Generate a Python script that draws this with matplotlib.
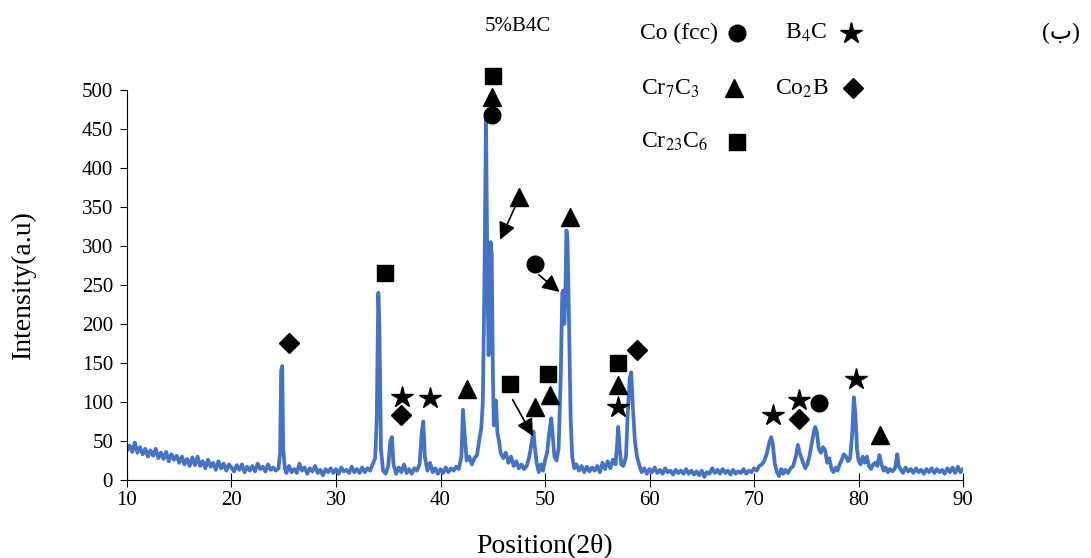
import matplotlib
matplotlib.use("Agg")
import matplotlib.pyplot as plt

plt.rcParams["font.family"] = ["Liberation Serif", "DejaVu Sans"]
plt.rcParams["mathtext.fontset"] = "stix"

# XRD pattern (2theta, intensity)
two_theta = [
    10.0, 10.25, 10.5, 10.75, 11.0, 11.25, 11.5, 11.75, 12.0, 12.25, 12.5, 12.75,
    13.0, 13.25, 13.5, 13.75, 14.0, 14.25, 14.5, 14.75, 15.0, 15.25, 15.5, 15.75,
    16.0, 16.25, 16.5, 16.75, 17.0, 17.25, 17.5, 17.75, 18.0, 18.25, 18.5, 18.75,
    19.0, 19.25, 19.5, 19.75, 20.0, 20.25, 20.5, 20.75, 21.0, 21.25, 21.5, 21.75,
    22.0, 22.25, 22.5, 22.75, 23.0, 23.25, 23.5, 23.75, 24.0, 24.25, 24.5,
    24.65, 24.75, 24.85, 24.95, 25.1, 25.25,
    25.5, 25.75, 26.0, 26.25, 26.5, 26.75, 27.0, 27.25, 27.5, 27.75, 28.0, 28.25,
    28.5, 28.75, 29.0, 29.25, 29.5, 29.75, 30.0, 30.25, 30.5, 30.75, 31.0, 31.25,
    31.5, 31.75, 32.0, 32.25, 32.5, 32.75, 33.0, 33.25, 33.5, 33.75,
    33.9, 34.05, 34.15, 34.3, 34.5, 34.75, 35.0, 35.2, 35.35, 35.5, 35.75,
    36.0, 36.25, 36.5, 36.75, 37.0, 37.25, 37.5, 37.75, 38.0, 38.2, 38.35, 38.5,
    38.75, 39.0, 39.25, 39.5, 39.75, 40.0, 40.25, 40.5, 40.75, 41.0, 41.25, 41.5,
    41.75, 42.0, 42.15, 42.3, 42.5, 42.75, 43.0, 43.25, 43.5, 43.75, 43.9, 44.05,
    44.2, 44.35, 44.5, 44.6, 44.7, 44.8, 44.9, 45.0, 45.1, 45.3, 45.45, 45.6,
    45.75, 46.0, 46.25, 46.5, 46.75, 47.0, 47.25, 47.5, 47.75, 48.0, 48.25, 48.5,
    48.65, 48.8, 48.9, 49.0, 49.2, 49.4, 49.6, 49.8, 50.0, 50.2, 50.4, 50.6,
    50.75, 50.9, 51.1, 51.3, 51.5, 51.65, 51.75, 51.85, 51.95, 52.05, 52.15, 52.3,
    52.45, 52.6, 52.8, 53.0, 53.25, 53.5, 53.75, 54.0, 54.25, 54.5, 54.75, 55.0,
    55.25, 55.5, 55.75, 56.0, 56.25, 56.5, 56.75, 56.9, 57.0, 57.15, 57.3, 57.5,
    57.75, 57.9, 58.1, 58.25, 58.4, 58.6, 58.8, 59.0, 59.25, 59.5, 59.75, 60.0,
    60.25, 60.5, 60.75, 61.0, 61.25, 61.5, 61.75, 62.0, 62.25, 62.5, 62.75, 63.0,
    63.25, 63.5, 63.75, 64.0, 64.25, 64.5, 64.75, 65.0, 65.25, 65.5, 65.75, 66.0,
    66.25, 66.5, 66.75, 67.0, 67.25, 67.5, 67.75, 68.0, 68.25, 68.5, 68.75, 69.0,
    69.25, 69.5, 69.75, 70.0, 70.25, 70.5, 70.75, 71.0, 71.25, 71.5, 71.65, 71.8,
    72.0, 72.2, 72.4, 72.6, 72.8, 73.0, 73.25, 73.5, 73.75, 74.0, 74.2, 74.35,
    74.5, 74.7, 74.9, 75.1, 75.3, 75.5, 75.7, 75.85, 76.0, 76.2, 76.4, 76.6,
    76.8, 77.0, 77.2, 77.4, 77.6, 77.8, 78.0, 78.2, 78.4, 78.6, 78.8, 79.0,
    79.2, 79.4, 79.55, 79.7, 79.85, 80.0, 80.2, 80.4, 80.6, 80.8, 81.0, 81.2,
    81.4, 81.6, 81.8, 82.0, 82.2, 82.4, 82.6, 82.8, 83.0, 83.25, 83.5, 83.7,
    83.85, 84.0, 84.25, 84.5, 84.75, 85.0, 85.25, 85.5, 85.75, 86.0, 86.25, 86.5,
    86.75, 87.0, 87.25, 87.5, 87.75, 88.0, 88.25, 88.5, 88.75, 89.0, 89.25, 89.5,
    89.75, 90.0,
]
intensity = [
    38, 44, 36, 48, 35, 42, 33, 40, 30, 38, 31, 40,
    28, 35, 27, 36, 24, 33, 26, 31, 22, 30, 20, 27,
    18, 29, 19, 30, 18, 24, 15, 26, 17, 22, 13, 24,
    15, 21, 12, 20, 16, 11, 19, 13, 20, 10, 17, 12,
    18, 11, 21, 14, 17, 11, 20, 13, 16, 12, 15,
    35, 140, 146, 40, 15, 9,
    18, 10, 14, 9, 21, 12, 16, 8, 15, 11, 18, 9,
    13, 6, 14, 10, 15, 9, 14, 8, 16, 11, 13, 9,
    17, 10, 14, 9, 16, 10, 15, 12, 20, 28,
    80, 240, 200, 40, 12, 8, 18, 50, 55, 20, 8,
    16, 10, 20, 9, 14, 8, 15, 12, 20, 60, 75, 30,
    12, 22, 10, 15, 8, 14, 9, 16, 10, 15, 12, 17,
    14, 30, 90, 60, 25, 30, 20, 28, 32, 55, 66, 100,
    250, 462, 250, 160, 200, 305, 290, 150, 70, 102, 60, 50,
    35, 28, 35, 22, 30, 18, 24, 15, 20, 14, 18, 30,
    42, 55, 62, 45, 22, 10, 20, 12, 25, 35, 60, 79,
    55, 30, 25, 40, 130, 240, 243, 200, 240, 320, 310, 200,
    80, 30, 15, 20, 12, 18, 10, 17, 11, 16, 12, 18,
    10, 22, 14, 24, 15, 26, 20, 45, 68, 40, 20, 18,
    30, 80, 130, 138, 95, 50, 30, 20, 10, 15, 8, 14,
    10, 16, 9, 13, 8, 15, 10, 12, 7, 13, 9, 12,
    8, 14, 8, 12, 7, 11, 6, 12, 4, 10, 8, 15,
    9, 13, 8, 14, 9, 12, 7, 13, 8, 11, 9, 14,
    8, 12, 10, 15, 12, 18, 20, 25, 35, 50, 55, 45,
    20, 10, 5, 14, 8, 13, 9, 15, 18, 30, 45, 35,
    30, 22, 15, 20, 30, 45, 60, 68, 62, 40, 35, 42,
    38, 22, 28, 15, 10, 16, 12, 20, 26, 33, 30, 24,
    28, 60, 106, 85, 40, 25, 20, 30, 22, 30, 18, 14,
    20, 22, 18, 32, 20, 12, 16, 10, 14, 11, 15, 33,
    18, 14, 9, 16, 11, 14, 9, 15, 10, 13, 8, 14,
    10, 15, 9, 14, 10, 13, 8, 15, 10, 16, 9, 17,
    10, 14,
]

# phase labels on the peaks
circle_x = [44.9, 49.0, 76.2]
circle_y = [468, 277, 99]
triangle_x = [44.9, 47.5, 52.4, 42.5, 49.0, 50.5, 57.0, 82.1]
triangle_y = [491, 363, 337, 117, 94, 109, 122, 58]
square_x = [45.0, 34.7, 46.65, 50.3, 57.0]
square_y = [518, 265, 123, 136, 150]
star_x = [36.3, 39.0, 57.0, 71.8, 74.3, 79.8]
star_y = [106, 105, 94, 83, 103, 130]
diamond_x = [25.5, 36.2, 58.8, 74.3]
diamond_y = [176, 83, 167, 78]

# arrows (from, to)
arrows = [((47.2, 352), (45.7, 308)),
          ((49.4, 263), (51.4, 241)),
          ((46.9, 103), (48.85, 56))]

fig = plt.figure(figsize=(10.91, 5.58), dpi=100)
ax = fig.add_axes([0.1164, 0.1398, 0.7663, 0.6989])

ax.plot(two_theta, intensity, color="#4472C4", lw=2.7)

mk = dict(color="black", linestyle="none", clip_on=False, zorder=5)
ax.plot(circle_x, circle_y, marker="o", ms=12, **mk)
ax.plot(triangle_x, triangle_y, marker="^", ms=13, **mk)
ax.plot(square_x, square_y, marker="s", ms=11, **mk)
ax.plot(star_x, star_y, marker="*", ms=16, **mk)
ax.plot(diamond_x, diamond_y, marker="D", ms=10, **mk)

for (x0, y0), (x1, y1) in arrows:
    ax.annotate("", xy=(x1, y1), xytext=(x0, y0),
                arrowprops=dict(arrowstyle="-|>", color="black", lw=1.2,
                                mutation_scale=26, shrinkA=0, shrinkB=0),
                annotation_clip=False)

# key at the top
ax.text(47.4, 582, "5%B4C", fontsize=15, ha="center", va="center")
ax.text(59.1, 573, "Co (fcc)", fontsize=17, va="center")
ax.plot([68.4], [573], marker="o", ms=12, **mk)
ax.text(73.0, 573, "B$_4$C", fontsize=17, va="center")
ax.plot([79.3], [573], marker="*", ms=16, **mk)
ax.text(59.2, 502, "Cr$_7$C$_3$", fontsize=17, va="center")
ax.plot([68.1], [502], marker="^", ms=13, **mk)
ax.text(72.0, 502, "Co$_2$B", fontsize=17, va="center")
ax.plot([79.5], [502], marker="D", ms=10, **mk)
ax.text(59.2, 433, "Cr$_{23}$C$_6$", fontsize=17, va="center")
ax.plot([68.4], [433], marker="s", ms=11, **mk)
ax.text(101.2, 573, "(ب)", fontsize=17, ha="right", va="center")

ax.set_xlim(10, 90)
ax.set_ylim(0, 500)
ax.set_xticks(range(10, 91, 10))
ax.set_yticks(range(0, 501, 50))
ax.spines["top"].set_visible(False)
ax.spines["right"].set_visible(False)
ax.tick_params(axis="x", direction="inout", length=10, labelsize=15, pad=3)
ax.tick_params(axis="y", direction="out", length=5, labelsize=15, pad=5)

ax.set_xlabel("Position(2θ)", fontsize=20, labelpad=17)
ax.set_ylabel("Intensity(a.u)", fontsize=20, labelpad=33)

plt.savefig("out.png", dpi=100)
